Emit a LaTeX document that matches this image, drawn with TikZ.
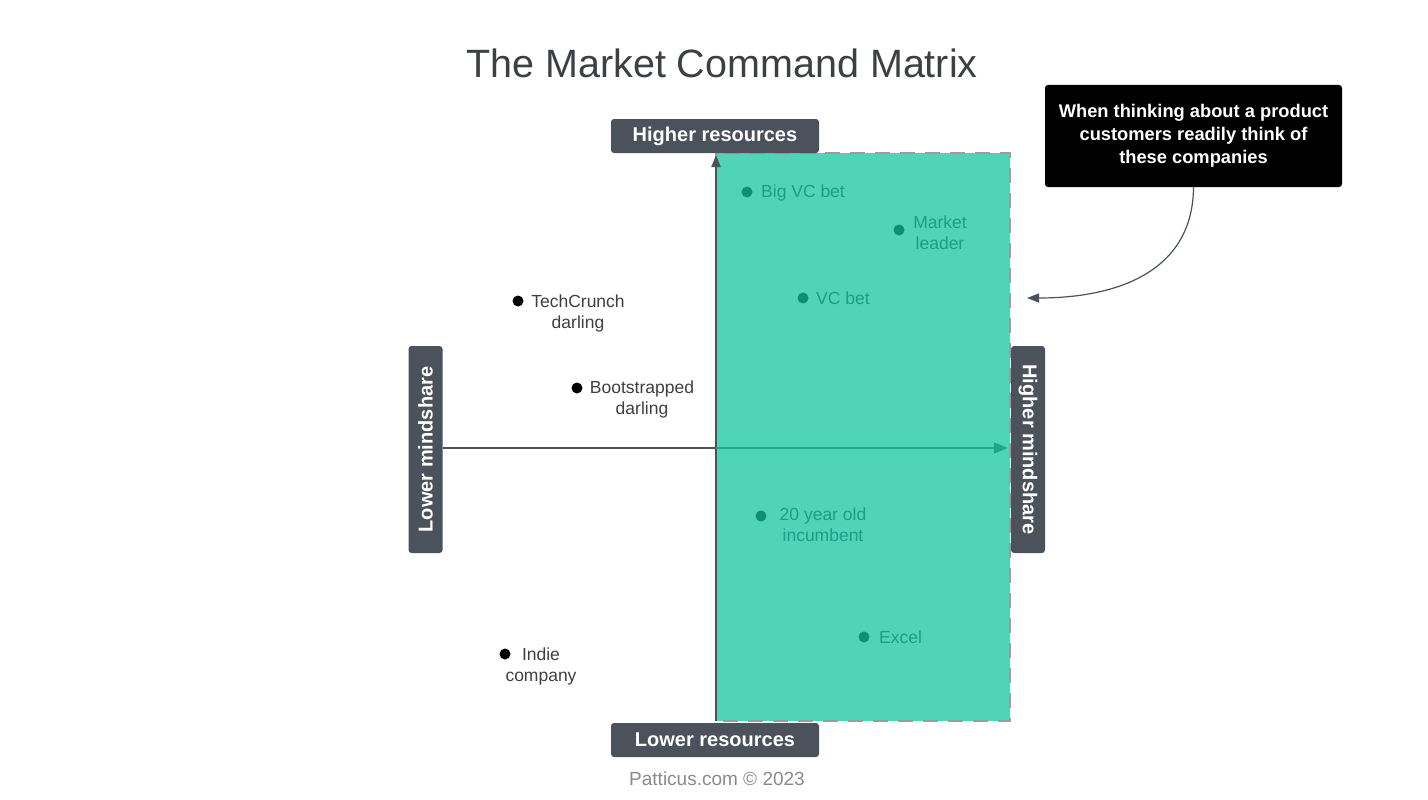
\documentclass[tikz,border=0pt]{standalone}
\usepackage{fontspec}
\setmainfont{Liberation Sans}
\usetikzlibrary{arrows.meta}
\definecolor{boxgray}{HTML}{4B525C}
\definecolor{tealfill}{HTML}{50D4B8}
\definecolor{tealdot}{HTML}{0F8F70}
\definecolor{tealtext}{HTML}{1C9E84}
\definecolor{tealaxis}{HTML}{1EA88A}
\definecolor{txtgray}{HTML}{3C4043}
\definecolor{dashgray}{HTML}{9A9CA3}
\definecolor{footgray}{HTML}{8A8A8A}
\tikzset{
  axlabel/.style={fill=boxgray, text=white, rounded corners=3pt, font=\fontsize{20}{24}\selectfont\bfseries, inner sep=0pt, minimum height=34pt},
  ptdot/.style={circle, fill=black, inner sep=0pt, minimum size=11pt},
  indot/.style={circle, fill=tealdot, inner sep=0pt, minimum size=11pt},
  ptlab/.style={text=txtgray, font=\fontsize{17.5}{21}\selectfont, align=center, inner sep=0pt},
  inlab/.style={text=tealtext, font=\fontsize{17.5}{21}\selectfont, align=center, inner sep=0pt},
}
\begin{document}
\begin{tikzpicture}[x=1pt,y=-1pt]
\useasboundingbox (0,0) rectangle (1428,800);
% title
\node[text=txtgray, font=\fontsize{39.5}{46}\selectfont] (title) at (722,63) {The Market Command Matrix};
% region
\fill[tealfill] (716,153) rectangle (1010,721);
\draw[dashgray, line width=2pt, dash pattern=on 15pt off 10pt] (716,153) rectangle (1010,721);
% axis labels
\node[axlabel, minimum width=208pt] (hr) at (715,136) {Higher resources};
\node[axlabel, minimum width=208pt] (lr) at (715,740) {Lower resources};
\node[axlabel, minimum width=207pt, rotate=90] (lm) at (425.5,449.5) {Lower mindshare};
\node[axlabel, minimum width=207pt, rotate=-90] (hm) at (1028,449.5) {Higher mindshare};
% axes
\coordinate (vb) at (716,721);
\coordinate (vt) at (716,155);
\draw[boxgray, line width=1.8pt, -{Triangle[length=12pt,width=9pt]}] (vb) -- (vt);
\coordinate (hmid) at (716,448);
\draw[boxgray, line width=1.8pt] (lm.south |- hmid) -- (hmid);
\draw[tealaxis, line width=1.8pt, -{Triangle[length=14pt,width=11pt]}] (hmid) -- ([xshift=-3pt]hm.south |- hmid);
% callout
\node[fill=black, text=white, rounded corners=3pt, minimum width=297pt, minimum height=102pt, align=center, font=\fontsize{18.3}{23}\selectfont\bfseries, inner sep=0pt] (call) at (1193.5,136) {\raisebox{-2pt}{\parbox{290pt}{\centering When thinking about a product\\customers readily think of\\these companies}}};
\coordinate (ctarget) at (1027,298);
\draw[boxgray, line width=1.2pt, -{Triangle[length=12pt,width=9pt]}] (call.south) .. controls (1193,270) and (1120,298) .. (ctarget);
% points outside
\node[ptdot] (d1) at (518,301) {};
\node[ptlab, anchor=north] (l1) at (578,295) {TechCrunch\\darling};
\node[ptdot] (d2) at (577,388) {};
\node[ptlab, anchor=north] (l2) at (642,381) {Bootstrapped\\darling};
\node[ptdot] (d3) at (505,654) {};
\node[ptlab, anchor=north] (l3) at (541,648) {Indie\\company};
% points inside
\node[indot] (d4) at (747,192) {};
\node[inlab, anchor=west] (l4) at (761,193) {Big VC bet};
\node[indot] (d5) at (899,230) {};
\node[inlab, anchor=north] (l5) at (940,216) {Market\\leader};
\node[indot] (d6) at (803,298) {};
\node[inlab, anchor=west] (l6) at (816,298.5) {VC bet};
\node[indot] (d7) at (761,516) {};
\node[inlab, anchor=north] (l7) at (823,508) {20 year old\\incumbent};
\node[indot] (d8) at (864,637) {};
\node[inlab, anchor=west] (l8) at (879,637.5) {Excel};
% footer
\node[text=footgray, font=\fontsize{19}{22}\selectfont] (foot) at (717,779) {Patticus.com © 2023};
\end{tikzpicture}
\end{document}
